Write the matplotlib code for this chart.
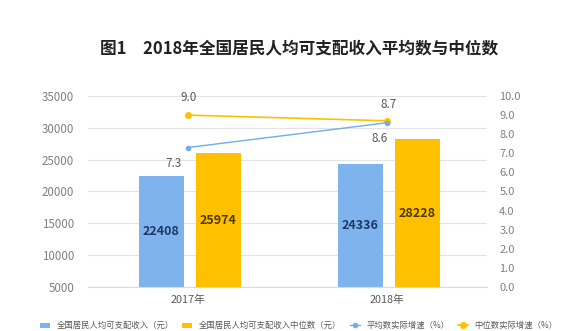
import matplotlib

matplotlib.use("Agg")
import matplotlib.pyplot as plt
import numpy as np

plt.rcParams["font.family"] = ["Noto Sans CJK SC", "DejaVu Sans"]

# data
years = ["2017年", "2018年"]
mean_income = [22408, 24336]
median_income = [25974, 28228]
mean_growth = [7.3, 8.6]
median_growth = [9.0, 8.7]
left_ticks = [5000, 10000, 15000, 20000, 25000, 30000, 35000]
right_ticks = [0, 1, 2, 3, 4, 5, 6, 7, 8, 9, 10]

BLUE = "#7EB3EE"
ORANGE = "#FFC000"
LINE_BLUE = "#6FAEE8"
GRAY = "#808080"

fig = plt.figure(figsize=(5.64, 3.31), dpi=100)
ax = fig.add_axes([0.156, 0.133, 0.707, 0.577])
ax2 = ax.twinx()

x = np.arange(len(years))
w = 0.225
b1 = ax.bar(x - 0.133, np.array(mean_income) - 5000, w, bottom=5000, color=BLUE, zorder=2,
            label="全国居民人均可支配收入（元）")
b2 = ax.bar(x + 0.153, np.array(median_income) - 5000, w, bottom=5000, color=ORANGE, zorder=2,
            label="全国居民人均可支配收入中位数（元）")
for bars, vals, col in [(b1, mean_income, "#1F3864"), (b2, median_income, "#4D3A00")]:
    for bar, v in zip(bars, vals):
        ax.text(bar.get_x() + bar.get_width() / 2, (5000 + v) / 2, f"{v}", ha="center", va="center",
                fontsize=9, color=col, fontweight="bold")

ax.set_xlim(-0.5, 1.5)
ax.set_ylim(5000, 35000)
ax.set_yticks(left_ticks)
ax.set_xticks(x)
ax.set_xticklabels(years)
ax.grid(axis="y", color="#e3e3e3", linewidth=0.8, zorder=0)
ax.set_axisbelow(True)
ax.tick_params(axis="y", length=0, pad=10, labelsize=8.3, labelcolor=GRAY)
ax.tick_params(axis="x", length=0, pad=6, labelsize=7.8, labelcolor="#595959")
for s in ax.spines.values():
    s.set_visible(False)
ax.spines["bottom"].set_visible(True)
ax.spines["bottom"].set_color("#d9d9d9")

l1, = ax2.plot(x, median_growth, color=ORANGE, marker="o", markersize=4, linewidth=1.2, zorder=3,
               label="中位数实际增速（%）")
l2, = ax2.plot(x, mean_growth, color=LINE_BLUE, marker="o", markersize=3, linewidth=1.0, zorder=4,
               label="平均数实际增速（%）")
ax2.set_ylim(0, 10)
ax2.set_yticks(right_ticks)
ax2.set_yticklabels([f"{t:.1f}" for t in right_ticks])
ax2.tick_params(axis="y", length=0, pad=9, labelsize=8, labelcolor=GRAY)
for s in ax2.spines.values():
    s.set_visible(False)

ax2.annotate(f"{median_growth[0]:.1f}", (x[0], median_growth[0]), xytext=(1, 8), textcoords="offset points",
             ha="center", va="bottom", fontsize=8.5, color="#595959")
ax2.annotate(f"{median_growth[1]:.1f}", (x[1], median_growth[1]), xytext=(1, 7), textcoords="offset points",
             ha="center", va="bottom", fontsize=8.5, color="#595959")
ax2.annotate(f"{mean_growth[0]:.1f}", (x[0], mean_growth[0]), xytext=(-10, -7), textcoords="offset points",
             ha="center", va="top", fontsize=8.5, color="#595959")
ax2.annotate(f"{mean_growth[1]:.1f}", (x[1], mean_growth[1]), xytext=(-5, -7), textcoords="offset points",
             ha="center", va="top", fontsize=8.5, color="#595959")

fig.text(0.53, 0.855, "图1　2018年全国居民人均可支配收入平均数与中位数", ha="center", va="center",
         fontsize=12, fontweight="bold", color="#222222")

# legend squeezed at the bottom edge, as in the reference
fig.legend([b1, b2, l2, l1], [b1.get_label(), b2.get_label(), l2.get_label(), l1.get_label()],
           loc="lower center", bbox_to_anchor=(0.53, -0.015), ncol=4, frameon=False, fontsize=6,
           labelcolor="#595959", handlelength=1.2, handleheight=0.6, columnspacing=1.0,
           borderpad=0.2)

fig.savefig("out.png", dpi=100)
plt.close()
